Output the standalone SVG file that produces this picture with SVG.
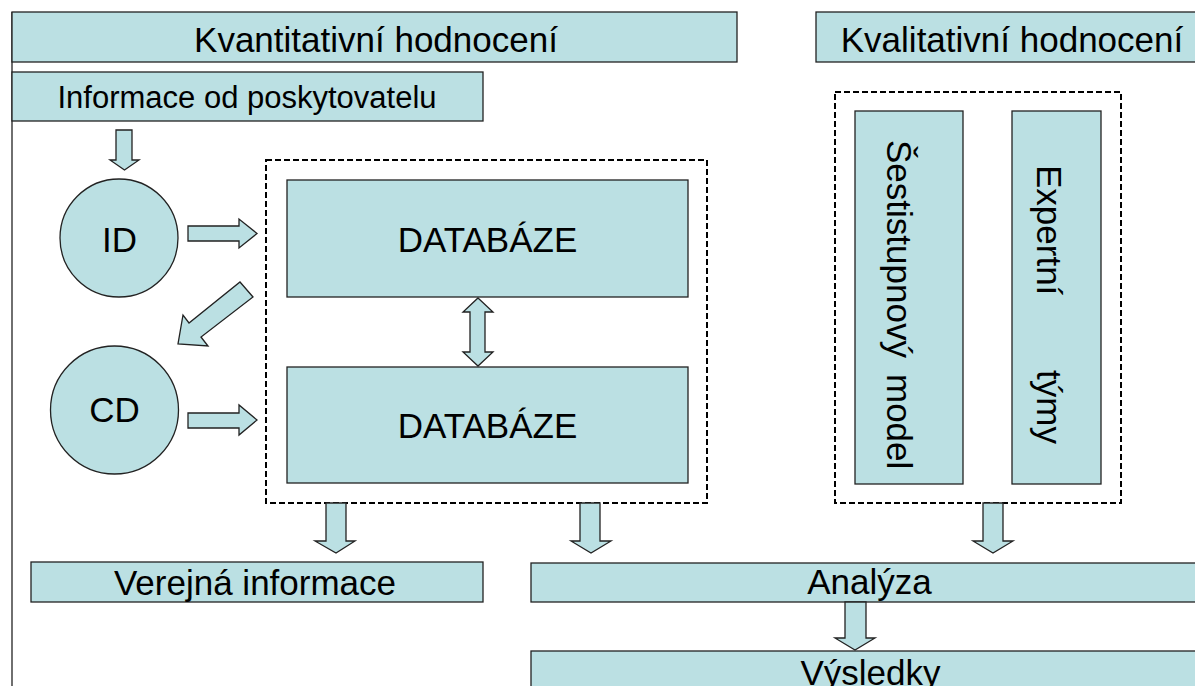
<svg xmlns="http://www.w3.org/2000/svg" width="1195" height="686" viewBox="0 0 1195 686">
<style>
.box{fill:#BBE0E3;stroke:#222;stroke-width:1.3}
.arr{fill:#BBE0E3;stroke:#222;stroke-width:1.3;stroke-linejoin:miter}
.dash{fill:none;stroke:#000;stroke-width:2;stroke-dasharray:6,3}
.t{font-family:"Liberation Sans",Arial,sans-serif;font-size:35px;fill:#000}
.m{text-anchor:middle}
</style>
<rect width="1195" height="686" fill="#fff"/>
<line x1="12" y1="12" x2="12" y2="686" stroke="#222" stroke-width="1.3"/>
<g id="hdr-kvant"><rect class="box" x="12" y="12" width="725" height="50"/><text class="t m" x="376" y="52">Kvantitativní hodnocení</text></g>
<g id="hdr-kval"><rect class="box" x="816" y="12" width="400" height="50"/><text class="t m" x="1012" y="52">Kvalitativní hodnocení</text></g>
<g id="info"><rect class="box" x="12" y="72" width="471" height="49"/><text class="t m" x="247" y="108" style="font-size:31px">Informace od poskytovatelu</text></g>
<g id="id"><circle class="box" cx="119" cy="238" r="59"/><text class="t m" x="119.5" y="252">ID</text></g>
<g id="cd"><circle class="box" cx="114.5" cy="410" r="64"/><text class="t m" x="114.5" y="422">CD</text></g>
<g id="db-group"><rect class="dash" x="266" y="160" width="441" height="343"/></g>
<g id="db1"><rect class="box" x="287" y="180" width="401" height="117"/><text class="t m" x="487.5" y="252">DATABÁZE</text></g>
<g id="db2"><rect class="box" x="287" y="367" width="401" height="116"/><text class="t m" x="487.5" y="438">DATABÁZE</text></g>
<g id="qual-group"><rect class="dash" x="835" y="92" width="286" height="411"/></g>
<g id="sest"><rect class="box" x="855" y="111" width="108" height="373"/><text class="t" transform="translate(887,140) rotate(90)" y="0"><tspan x="0">Šestistupnový</tspan><tspan x="234">model</tspan></text></g>
<g id="expert"><rect class="box" x="1012" y="111" width="89" height="373"/><text class="t" transform="translate(1037,165) rotate(90)" y="0"><tspan x="0">Expertní</tspan><tspan x="205">týmy</tspan></text></g>
<g id="verejna"><rect class="box" x="31" y="562" width="452" height="40"/><text class="t m" x="255" y="595">Verejná informace</text></g>
<g id="analyza"><rect class="box" x="531" y="563" width="680" height="39"/><text class="t m" x="869.5" y="594">Analýza</text></g>
<g id="vysledky"><rect class="box" x="531" y="651" width="680" height="50"/><text class="t m" x="870.5" y="685">Výsledky</text></g>
<g id="connectors">
<polygon class="arr" points="116,130 132,130 132,160 139,160 124.5,170 110,160 116,160"/>
<polygon class="arr" points="188,226 239,226 239,219 257,233.5 239,248 239,241 188,241"/>
<polygon class="arr" points="188,413 239,413 239,405 257,420 239,435 239,428 188,428"/>
<polygon class="arr" points="240,282 253,297 201,337 208,346 178,344 183,315 189,323"/>
<polygon class="arr" points="478,298 493,312 485,312 485,352 493,352 478,366 463,352 470,352 470,312 463,312"/>
<polygon class="arr" points="326,503 346,503 346,541 355,541 336,553 315,541 326,541"/>
<polygon class="arr" points="580,503 600,503 600,541 611,541 591,553 571,541 580,541"/>
<polygon class="arr" points="983,503 1003,503 1003,541 1013,541 993,553 973,541 983,541"/>
<polygon class="arr" points="845,602 866,602 866,638 875,638 855,650 835,638 845,638"/>
</g>
</svg>
